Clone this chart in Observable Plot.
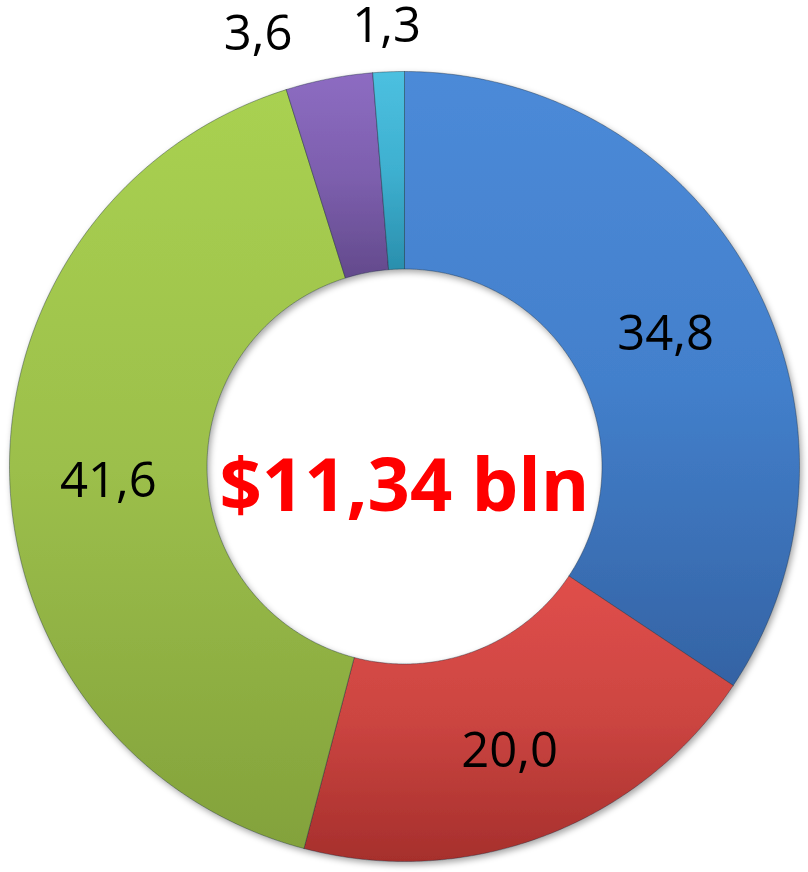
<!DOCTYPE html>
<html><head><meta charset="utf-8">
<script src="https://cdn.jsdelivr.net/npm/d3@7"></script>
<script src="https://cdn.jsdelivr.net/npm/@observablehq/plot@0.6"></script>
<style>body{margin:0;background:#fff}</style>
</head><body><div id="chart"></div>
<script>
// ---- data ----
const categories = ["Segment 1", "Segment 2", "Segment 3", "Segment 4", "Segment 5"];
const values = [34.8, 20.0, 41.6, 3.6, 1.3];
const valueLabels = ["34,8", "20,0", "41,6", "3,6", "1,3"];
const colorsTop = ["#4c8ad8", "#e04f4b", "#a9d151", "#8d6cc2", "#4cc0e0"];
const colorsMid = ["#4380cc", "#cc4541", "#9cbf4b", "#7d5fae", "#3eb0d0"];
const colorsBottom = ["#3463a4", "#a62f2c", "#83a23b", "#634a8c", "#2a8fad"];
const centerLabel = "$11,34 bln";

// ---- geometry (unit circle = outer radius) ----
const W = 808, H = 872, R = 395, CX = 404, CY = 466;
const inner = 0.5;
const font = "'Open Sans', Lato, sans-serif";

const data = categories.map((c, i) => ({category: c, value: values[i], label: valueLabels[i], i}));
const arcs = d3.pie().sort(null).value(d => d.value)(data);

const poly = [];
arcs.forEach(a => {
  const n = Math.max(4, Math.ceil((a.endAngle - a.startAngle) / 0.01));
  const pts = [];
  for (let k = 0; k <= n; k++) {
    const t = a.startAngle + (a.endAngle - a.startAngle) * k / n;
    pts.push([Math.sin(t), Math.cos(t)]);
  }
  for (let k = n; k >= 0; k--) {
    const t = a.startAngle + (a.endAngle - a.startAngle) * k / n;
    pts.push([inner * Math.sin(t), inner * Math.cos(t)]);
  }
  pts.push(pts[0]);
  pts.forEach(([x, y]) => poly.push({x, y, slice: a.data.category, fill: `url(#grad${a.data.i})`}));
});

// labels: inside (centroid) for large slices, outside for small ones
const insideLabels = [], outsideLabels = [];
arcs.forEach(a => {
  const mid = (a.startAngle + a.endAngle) / 2;
  const share = (a.endAngle - a.startAngle) / (2 * Math.PI);
  if (share >= 0.05) {
    const r = (1 + inner) / 2;
    insideLabels.push({x: r * Math.sin(mid), y: r * Math.cos(mid), text: a.data.label});
  } else {
    const r = 1.12;
    outsideLabels.push({x: r * Math.sin(mid), y: r * Math.cos(mid), text: a.data.label, mid});
  }
});
// simple overlap resolution for outside labels near the top (move counter-clockwise ones left)
outsideLabels.sort((a, b) => b.mid - a.mid);
const fs = 49, charW = 0.5 * fs / R, gap = 55 / R;
for (let k = 1; k < outsideLabels.length; k++) {
  const prev = outsideLabels[k - 1], cur = outsideLabels[k];
  const prevLeft = prev.x - prev.text.length * charW / 2;
  const maxX = prevLeft - gap - cur.text.length * charW / 2;
  if (cur.x > maxX) { cur.x = maxX; cur.y = prev.y - 0.02; }
}

const plot = Plot.plot({
  width: W, height: H,
  margin: 0,
  x: {domain: [-CX / R, (W - CX) / R], axis: null},
  y: {domain: [-(H - CY) / R, CY / R], axis: null},
  color: {type: "identity"},
  style: {background: "white"},
  marks: [
    Plot.line(poly, {x: "x", y: "y", z: "slice", fill: "fill", stroke: "#1b2a3a", strokeOpacity: 0.4, strokeWidth: 1, curve: "linear"}),
    Plot.text(insideLabels, {x: "x", y: "y", text: "text", fontSize: fs, fontFamily: font, fill: "black", dy: 8}),
    Plot.text(outsideLabels, {x: "x", y: "y", text: "text", fontSize: fs, fontFamily: font, fill: "black", dy: 2}),
    Plot.text([centerLabel], {x: 0, y: 0, text: d => d, fontSize: 74, fontWeight: "bold", fontFamily: font, fill: "#ff0000", dy: 21})
  ]
});

// gradients + shadow
const svg = d3.select(plot);
const defs = svg.insert("defs", ":first-child");
categories.forEach((c, i) => {
  const g = defs.append("linearGradient").attr("id", `grad${i}`).attr("x1", 0).attr("y1", 0).attr("x2", 0).attr("y2", 1);
  g.append("stop").attr("offset", "0%").attr("stop-color", colorsTop[i]);
  g.append("stop").attr("offset", "50%").attr("stop-color", colorsMid[i]);
  g.append("stop").attr("offset", "100%").attr("stop-color", colorsBottom[i]);
});
const f = defs.append("filter").attr("id", "shadow").attr("x", "-10%").attr("y", "-10%").attr("width", "120%").attr("height", "120%");
f.append("feDropShadow").attr("dx", 2).attr("dy", 3).attr("stdDeviation", 3).attr("flood-color", "#000").attr("flood-opacity", 0.35);
svg.select("g[aria-label=line]").attr("filter", "url(#shadow)");

document.getElementById("chart").appendChild(plot);
</script>
</body></html>
